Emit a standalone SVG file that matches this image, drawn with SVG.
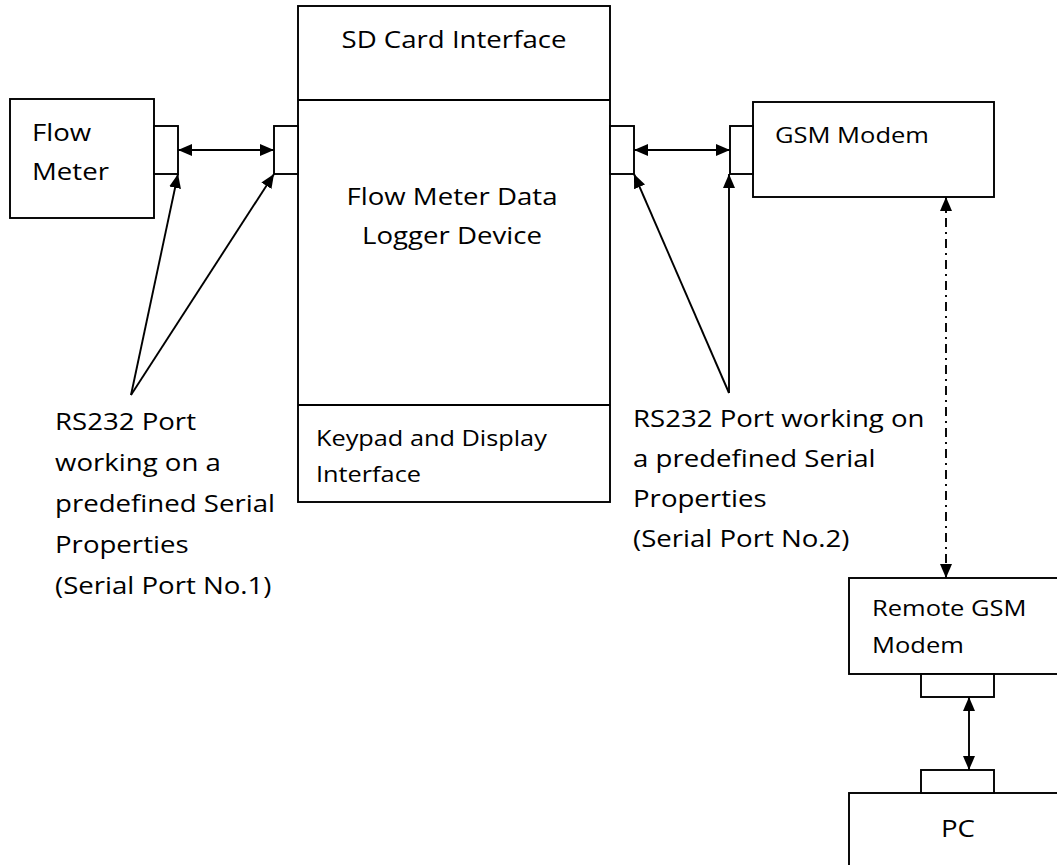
<svg xmlns="http://www.w3.org/2000/svg" width="1057" height="865" viewBox="0 0 1057 865">
<defs>
<style>
.box{fill:#fff;stroke:#000;stroke-width:1.9}
.ln{fill:none;stroke:#000;stroke-width:1.9}
.t{font-family:"Open Sans","Noto Sans",sans-serif;font-size:24px;fill:#000}
.s{font-family:"Open Sans","Noto Sans",sans-serif;font-size:22px;fill:#000}
</style>
<marker id="ah" viewBox="0 0 14 12" refX="14" refY="6" markerWidth="14" markerHeight="12" markerUnits="userSpaceOnUse" orient="auto-start-reverse">
<path d="M0,0 L14,6 L0,12 Z" fill="#000"/>
</marker>
</defs>
<rect width="1057" height="865" fill="#fff"/>

<g id="flow-meter">
<rect class="box" x="10" y="99" width="144" height="119"/>
<rect class="box" x="154" y="126" width="24" height="48"/>
<text class="t" transform="translate(32,141) scale(1.15,1)"><tspan x="0">Flow</tspan><tspan x="0" dy="39">Meter</tspan></text>
</g>

<g id="logger">
<rect class="box" x="298" y="6" width="312" height="496"/>
<line class="ln" x1="298" y1="100" x2="610" y2="100"/>
<line class="ln" x1="298" y1="405" x2="610" y2="405"/>
<rect class="box" x="274" y="126" width="24" height="48"/>
<rect class="box" x="610" y="126" width="24" height="48"/>
<text class="t" text-anchor="middle" transform="translate(454,48) scale(1.15,1)">SD Card Interface</text>
<text class="t" text-anchor="middle" transform="translate(452,205) scale(1.15,1)"><tspan x="0">Flow Meter Data</tspan><tspan x="0" dy="39">Logger Device</tspan></text>
<text class="s" transform="translate(316,446) scale(1.15,1)"><tspan x="0">Keypad and Display</tspan><tspan x="0" dy="36">Interface</tspan></text>
</g>

<g id="gsm-modem">
<rect class="box" x="753" y="102" width="241" height="95"/>
<rect class="box" x="730" y="126" width="23" height="48"/>
<text class="s" transform="translate(775,143) scale(1.16,1)">GSM Modem</text>
</g>

<g id="remote-gsm">
<rect class="box" x="849" y="578" width="220" height="96"/>
<rect class="box" x="921" y="674" width="73" height="23"/>
<text class="s" transform="translate(872,616) scale(1.16,1)"><tspan x="0">Remote GSM</tspan><tspan x="0" dy="37">Modem</tspan></text>
</g>

<g id="pc">
<rect class="box" x="849" y="793" width="220" height="100"/>
<rect class="box" x="921" y="770" width="73" height="23"/>
<text class="t" text-anchor="middle" transform="translate(958,837) scale(1.15,1)">PC</text>
</g>

<g id="label-port1">
<text class="t" transform="translate(55,430) scale(1.15,1)"><tspan x="0">RS232 Port</tspan><tspan x="0" dy="41">working on a</tspan><tspan x="0" dy="41">predefined Serial</tspan><tspan x="0" dy="41">Properties</tspan><tspan x="0" dy="41">(Serial Port No.1)</tspan></text>
</g>

<g id="label-port2">
<text class="t" transform="translate(633,427) scale(1.15,1)"><tspan x="0">RS232 Port working on</tspan><tspan x="0" dy="40">a predefined Serial</tspan><tspan x="0" dy="40">Properties</tspan><tspan x="0" dy="40">(Serial Port No.2)</tspan></text>
</g>

<g id="connectors">
<line class="ln" x1="178" y1="150" x2="274" y2="150" marker-start="url(#ah)" marker-end="url(#ah)"/>
<line class="ln" x1="634" y1="150" x2="730" y2="150" marker-start="url(#ah)" marker-end="url(#ah)"/>
<line class="ln" x1="969" y1="697" x2="969" y2="770" marker-start="url(#ah)" marker-end="url(#ah)"/>
<line class="ln" x1="946" y1="197" x2="946" y2="578" stroke-dasharray="9,5,2,5" marker-start="url(#ah)" marker-end="url(#ah)"/>
<line class="ln" x1="131" y1="395" x2="178" y2="174" marker-end="url(#ah)"/>
<line class="ln" x1="131" y1="395" x2="274" y2="174" marker-end="url(#ah)"/>
<line class="ln" x1="729" y1="393" x2="634" y2="174" marker-end="url(#ah)"/>
<line class="ln" x1="729" y1="393" x2="729" y2="174" marker-end="url(#ah)"/>
</g>
</svg>
